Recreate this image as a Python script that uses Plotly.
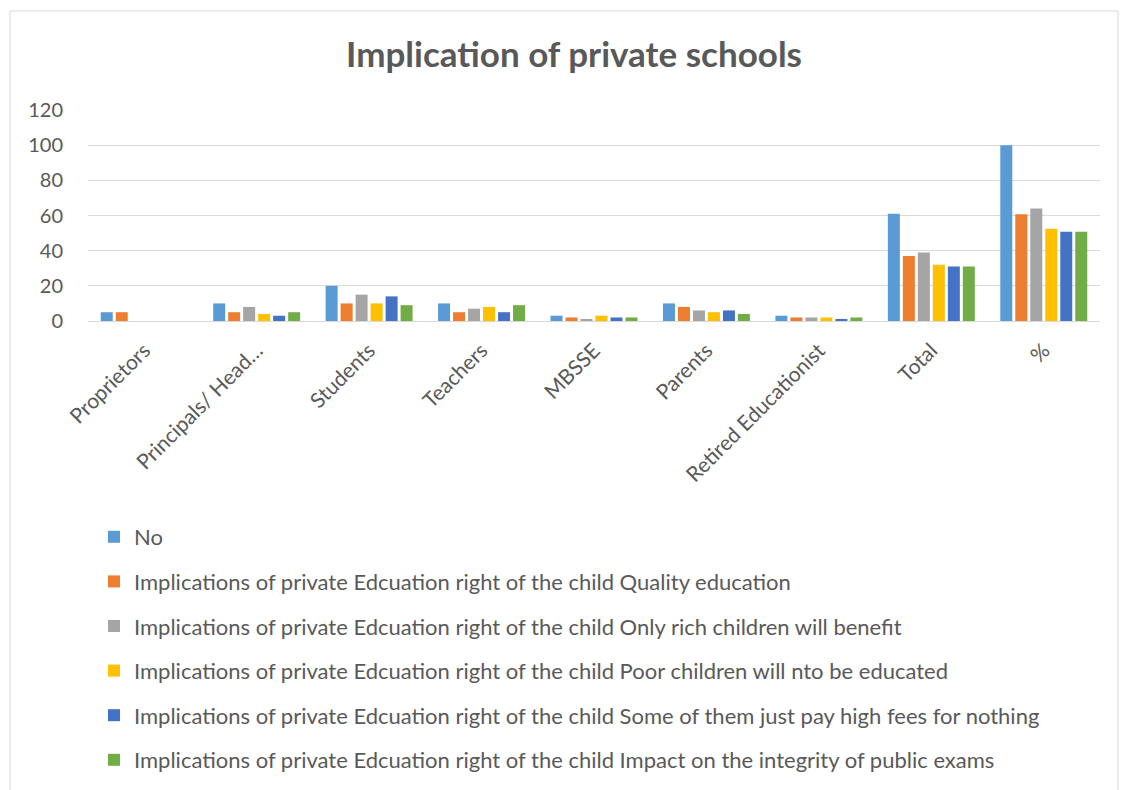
import plotly.graph_objects as go

categories = ["Proprietors", "Principals/ Head…", "Students", "Teachers", "MBSSE",
              "Parents", "Retired Educationist", "Total", "%"]

prefix = "Implications of private Edcuation right of the child "
series_names = [
    "No",
    prefix + "Quality education",
    prefix + "Only rich children will benefit",
    prefix + "Poor children will nto be educated",
    prefix + "Some of them just pay high fees for nothing",
    prefix + "Impact on the integrity of public exams",
]

no_vals        = [5, 10, 20, 10, 3, 10, 3, 61, 100]
quality_vals   = [5, 5, 10, 5, 2, 8, 2, 37, 60.66]
rich_vals      = [0, 8, 15, 7, 1, 6, 2, 39, 63.93]
poor_vals      = [0, 4, 10, 8, 3, 5, 2, 32, 52.46]
fees_vals      = [0, 3, 14, 5, 2, 6, 1, 31, 50.82]
integrity_vals = [0, 5, 9, 9, 2, 4, 2, 31, 50.82]

series_values = [no_vals, quality_vals, rich_vals, poor_vals, fees_vals, integrity_vals]
colors = ["#5B9BD5", "#ED7D31", "#A5A5A5", "#FFC000", "#4472C4", "#70AD47"]

y_ticks = [0, 20, 40, 60, 80, 100, 120]

FONT = "Lato"
TXT = "#595959"

fig = go.Figure()
for i, (name, vals, col) in enumerate(zip(series_names, series_values, colors)):
    fig.add_trace(go.Bar(
        x=categories, y=vals, name=name,
        marker=dict(color=col, line=dict(width=0)),
        legendgroup=f"g{i}",
    ))

W, H = 1128, 790
L, R, T, B = 88, 28, 110, 469
pw, ph = W - L - R, H - T - B

def px_x(p):
    return (p - L) / pw

def px_y(p):
    return (H - B - p) / ph

fig.update_layout(
    width=W, height=H,
    margin=dict(l=L, r=R, t=T, b=B, autoexpand=False),
    paper_bgcolor="white", plot_bgcolor="white",
    barmode="group", bargap=0.2, bargroupgap=0.2,
    font=dict(family=FONT, color=TXT, size=20),
    title=dict(text="<b>Implication of private schools</b>",
               xref="container", yref="container",
               x=574 / W, xanchor="center", y=1 - 55 / H, yanchor="middle",
               font=dict(family=FONT, size=35, color=TXT)),
    showlegend=True,
    legend=dict(
        orientation="v", x=px_x(94), xanchor="left",
        y=px_y(516), yanchor="top",
        font=dict(family=FONT, size=22, color=TXT),
        tracegroupgap=13, traceorder="grouped",
        bgcolor="rgba(0,0,0,0)",
    ),
    xaxis=dict(
        tickangle=-45, showgrid=False, showline=True, linecolor="#D9D9D9",
        linewidth=1, ticks="", tickfont=dict(size=21, color=TXT, family=FONT),
        ticklabelstandoff=8,
    ),
    yaxis=dict(
        range=[0, 120], tickvals=y_ticks, showgrid=True, gridcolor="#D9D9D9",
        gridwidth=1, zeroline=False, showline=False, ticks="",
        tickfont=dict(size=20, color=TXT, family=FONT), ticklabelstandoff=24,
    ),
    shapes=[dict(type="rect", xref="paper", yref="paper",
                 x0=px_x(10), x1=px_x(1118), y0=px_y(800), y1=px_y(11),
                 line=dict(color="#D9D9D9", width=1), layer="below")],
)

fig.write_html("out.html")
